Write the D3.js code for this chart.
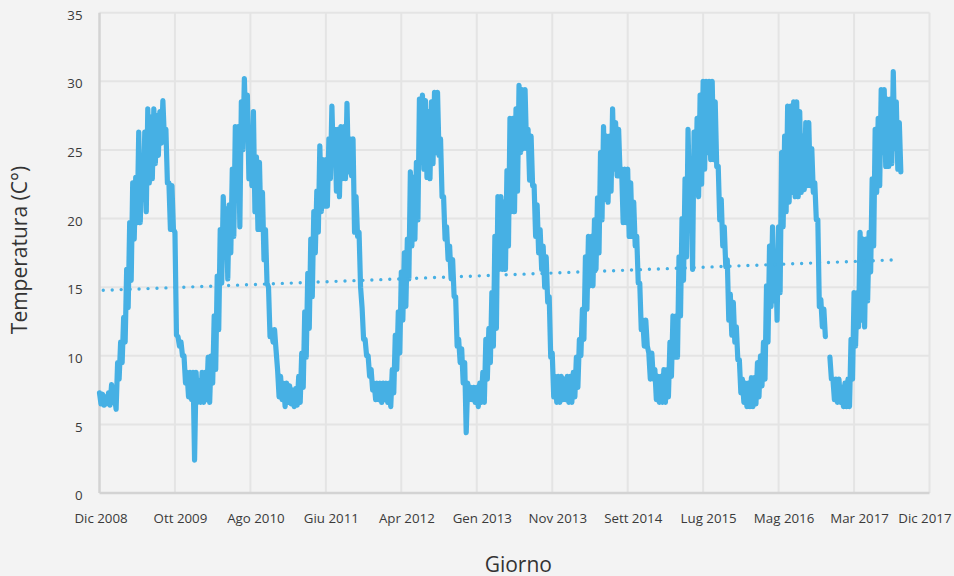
<!DOCTYPE html>
<html>
<head>
<meta charset="utf-8">
<script src="https://cdn.jsdelivr.net/npm/d3@7"></script>
<style>
  body { margin: 0; background: #f3f3f3; }
  svg { display: block; font-family: "Open Sans", sans-serif; }
</style>
</head>
<body>
<svg class="chart"></svg>
<script>
const tickLabels = ["Dic 2008", "Ott 2009", "Ago 2010", "Giu 2011", "Apr 2012", "Gen 2013",
  "Nov 2013", "Sett 2014", "Lug 2015", "Mag 2016", "Mar 2017", "Dic 2017"];
const yTicks = [0, 5, 10, 15, 20, 25, 30, 35];
const samplesPerTick = 25;

// max / min reading in each sample step (null = missing)
const highs = [
  7.3, 7.2, 7.0, 7.3, 7.9, 7.0, 9.5, 11.0, 12.8, 16.3,
  19.7, 22.6, 23.0, 26.3, 23.6, 26.3, 28.0, 27.4, 28.0, 27.5,
  27.8, 28.6, 26.5, 22.6, 22.4, 19.0, 11.4, 11.0, 10.0, 8.8,
  8.8, 8.8, 8.8, 8.2, 8.8, 8.8, 9.9, 10.0, 12.9, 15.8,
  19.2, 21.6, 20.7, 21.0, 23.6, 26.7, 26.7, 28.5, 30.2, 29.0,
  26.5, 27.8, 24.5, 24.1, 21.9, 19.2, 15.0, 11.9, 11.9, 9.0,
  8.5, 8.0, 8.0, 7.8, 7.5, 7.6, 8.5, 10.2, 13.2, 16.0,
  18.5, 20.5, 22.0, 25.3, 24.3, 24.3, 25.8, 28.2, 26.5, 26.5,
  26.7, 26.7, 28.4, 25.8, 25.8, 21.6, 19.0, 13.5, 11.2, 10.0,
  9.0, 8.0, 8.0, 8.0, 8.0, 8.0, 8.0, 9.0, 11.5, 13.2,
  16.1, 17.5, 18.5, 23.4, 23.0, 24.1, 28.7, 29.0, 28.6, 27.8,
  28.5, 29.2, 29.2, 25.8, 21.6, 19.4, 18.0, 17.0, 14.3, 11.2,
  10.5, 9.5, 8.0, 7.7, 7.7, 7.7, 8.0, 8.8, 11.2, 12.0,
  14.6, 18.7, 21.6, 21.6, 21.2, 23.5, 27.3, 27.3, 28.0, 29.7,
  29.4, 29.4, 26.5, 26.0, 22.4, 21.0, 19.2, 18.0, 17.2, 14.3,
  10.2, 8.5, 8.5, 8.5, 8.3, 8.5, 8.5, 8.8, 9.9, 11.2,
  13.4, 17.2, 18.7, 18.7, 19.9, 21.5, 24.8, 26.7, 26.0, 26.0,
  28.0, 27.0, 26.5, 23.6, 23.6, 23.6, 22.6, 21.2, 18.7, 15.3,
  12.6, 12.6, 10.2, 10.2, 9.0, 8.5, 8.5, 9.0, 9.0, 11.0,
  12.9, 12.9, 17.2, 20.0, 22.9, 26.5, 23.8, 26.3, 27.3, 29.0,
  30.0, 30.0, 30.0, 30.0, 28.5, 23.8, 21.4, 19.4, 17.0, 14.5,
  13.9, 12.1, 9.7, 8.3, 8.0, 8.0, 8.4, 8.4, 9.5, 10.0,
  11.0, 15.1, 18.0, 19.4, 17.5, 19.4, 24.8, 26.0, 28.2, 28.2,
  28.5, 28.5, 27.8, 26.0, 27.0, 27.0, 25.1, 22.6, 19.9, 14.1,
  13.4, null, 9.9, 8.3, 8.3, 8.3, 7.7, 8.0, 8.3, 11.2,
  14.6, 14.6, 19.0, 18.5, 18.5, 19.0, 22.9, 26.5, 27.3, 29.4,
  29.4, 28.7, 28.7, 30.7, 28.5, 27.0
];
const lows = [
  6.5, 6.4, 6.5, 6.4, 6.6, 6.1, 8.3, 9.5, 11.0, 13.5,
  15.5, 18.5, 19.7, 19.7, 21.4, 20.5, 22.6, 22.9, 24.0, 24.6,
  25.5, 25.8, 22.6, 19.2, 19.2, 11.5, 10.7, 10.0, 8.0, 7.0,
  6.8, 2.4, 6.6, 6.6, 6.6, 6.8, 6.6, 8.0, 9.0, 11.9,
  15.3, 18.5, 15.6, 17.5, 18.7, 21.6, 19.4, 25.0, 26.0, 22.9,
  22.4, 20.5, 19.2, 19.2, 17.0, 15.3, 11.4, 11.0, 10.4, 7.0,
  6.8, 6.3, 6.6, 6.5, 6.3, 6.4, 6.6, 7.7, 9.9, 12.0,
  14.3, 17.5, 19.0, 20.5, 20.9, 20.9, 22.9, 24.1, 22.0, 21.6,
  22.9, 22.9, 23.4, 23.1, 19.0, 18.7, 15.0, 11.2, 10.0, 8.5,
  7.5, 6.8, 6.8, 6.6, 6.8, 6.6, 6.3, 7.3, 9.0, 10.2,
  12.6, 13.6, 15.6, 18.0, 18.5, 19.9, 24.1, 23.6, 23.0, 22.9,
  24.0, 24.8, 24.6, 21.6, 18.5, 17.0, 15.6, 14.3, 10.7, 9.5,
  8.0, 4.4, 6.8, 6.8, 6.6, 6.3, 6.6, 6.6, 8.3, 9.5,
  10.7, 12.0, 16.3, 16.3, 16.3, 18.0, 20.5, 20.5, 22.0, 24.8,
  25.1, 25.1, 22.8, 22.4, 18.7, 17.5, 16.3, 15.0, 13.9, 9.9,
  7.0, 6.6, 6.6, 6.8, 6.8, 6.6, 6.6, 7.0, 7.7, 10.0,
  11.2, 13.4, 15.1, 15.1, 16.3, 17.5, 19.9, 21.4, 21.2, 22.0,
  23.6, 23.1, 23.1, 19.7, 19.7, 18.7, 18.7, 18.0, 15.3, 11.9,
  10.7, 10.7, 8.3, 8.3, 6.8, 6.6, 6.6, 6.6, 7.0, 8.5,
  9.9, 9.9, 12.9, 15.5, 17.2, 21.2, 16.3, 21.9, 21.6, 22.5,
  23.6, 24.8, 24.3, 24.3, 23.8, 19.9, 18.0, 16.5, 12.6, 11.5,
  11.0, 9.7, 7.3, 6.6, 6.3, 6.3, 6.3, 6.5, 7.0, 7.8,
  8.3, 11.0, 13.6, 14.0, 12.6, 14.6, 19.4, 20.5, 21.2, 21.9,
  21.6, 21.6, 21.9, 22.1, 22.4, 22.4, 21.9, 19.9, 13.6, 12.1,
  11.4, null, 8.3, 6.8, 6.6, 6.6, 6.3, 6.3, 6.3, 8.3,
  10.7, 12.1, 12.6, 12.1, 14.0, 16.1, 18.0, 21.9, 22.4, 24.8,
  23.8, 23.8, 24.0, 25.1, 23.6, 23.4
];
// linear trend, value at first and last sample
const trend = [14.76, 17.0];

const width = 954;
const height = 576;
const margin = { top: 12.7, right: 24.5, bottom: 83, left: 99.5 };
const innerWidth = width - margin.left - margin.right;
const innerHeight = height - margin.top - margin.bottom;
const blue = "#46b0e4";
const font = "Open Sans, sans-serif";

const svg = d3.select(".chart")
    .attr("width", width)
    .attr("height", height);

const g = svg.append("g")
    .attr("transform", `translate(${margin.left}, ${margin.top})`);

const x = d3.scaleLinear()
  .domain([0, (tickLabels.length - 1) * samplesPerTick])
  .range([0, innerWidth]);
const y = d3.scaleLinear()
  .domain([0, 35])
  .range([innerHeight, 0]);

const xTicks = tickLabels.map((d, i) => i * samplesPerTick);

// grid
g.selectAll(".hgrid")
    .data(yTicks.slice(1))
    .enter()
  .append("line")
    .attr("x1", 0)
    .attr("x2", innerWidth)
    .attr("y1", d => y(d))
    .attr("y2", d => y(d))
    .attr("stroke", "#e4e4e4")
    .attr("stroke-width", 2);

g.selectAll(".vgrid")
    .data(xTicks.slice(1))
    .enter()
  .append("line")
    .attr("x1", d => x(d))
    .attr("x2", d => x(d))
    .attr("y1", 0)
    .attr("y2", innerHeight)
    .attr("stroke", "#e4e4e4")
    .attr("stroke-width", 2);

// axis lines
g.append("line")
    .attr("x1", 0).attr("x2", 0)
    .attr("y1", 0).attr("y2", innerHeight)
    .attr("stroke", "#d3d3d3")
    .attr("stroke-width", 2.5);
g.append("line")
    .attr("x1", 0).attr("x2", innerWidth)
    .attr("y1", innerHeight).attr("y2", innerHeight)
    .attr("stroke", "#d3d3d3")
    .attr("stroke-width", 2.5);

// tick labels
const yAxis = g.append("g")
    .call(d3.axisLeft(y).tickValues(yTicks).tickSize(0).tickPadding(17));
yAxis.select(".domain").remove();
yAxis.selectAll("text")
    .attr("dy", "0.5em")
    .attr("fill", "#3a3a3a")
    .attr("font-size", 13.3)
    .attr("font-family", font);

const xAxis = g.append("g")
    .attr("transform", `translate(0, ${innerHeight})`)
    .call(d3.axisBottom(x).tickValues(xTicks).tickSize(0).tickPadding(21)
      .tickFormat((d, i) => tickLabels[i]));
xAxis.select(".domain").remove();
xAxis.selectAll("text")
    .attr("fill", "#3a3a3a")
    .attr("font-size", 13.3)
    .attr("font-family", font)
    .attr("dx", (d, i) => i === 0 ? 1 : 5);
// last label kept inside the frame
xAxis.selectAll("text")
    .filter((d, i) => i === tickLabels.length - 1)
    .attr("text-anchor", "end")
    .attr("dx", 21.5);

// series: each step goes from its max to its min reading
const points = highs.flatMap((h, i) => [[i, h], [i + 0.5, lows[i]]]);
const line = d3.line()
  .defined(d => d[1] != null)
  .x(d => x(d[0]))
  .y(d => y(d[1]));

g.append("path")
    .datum(points)
    .attr("d", line)
    .attr("fill", "none")
    .attr("stroke", blue)
    .attr("stroke-width", 5.2)
    .attr("stroke-linejoin", "round")
    .attr("stroke-linecap", "round");

// trend line
const trendLine = d3.line()
  .x(d => x(d[0]))
  .y(d => y(d[1]));

g.append("path")
    .datum([[0, trend[0]], [highs.length - 1, trend[1]]])
    .attr("d", trendLine)
    .attr("fill", "none")
    .attr("stroke", blue)
    .attr("stroke-width", 3.4)
    .attr("stroke-linecap", "round")
    .attr("stroke-dasharray", "0 8.96")
    .attr("stroke-dashoffset", 5.2);

// titles
svg.append("text")
    .attr("transform", "translate(26.5, 250) rotate(-90)")
    .attr("text-anchor", "middle")
    .attr("font-size", 21)
    .attr("fill", "#333")
    .text("Temperatura (C°)");

svg.append("text")
    .attr("x", 518.3)
    .attr("y", 572)
    .attr("text-anchor", "middle")
    .attr("font-size", 21)
    .attr("fill", "#333")
    .text("Giorno");
</script>
</body>
</html>
